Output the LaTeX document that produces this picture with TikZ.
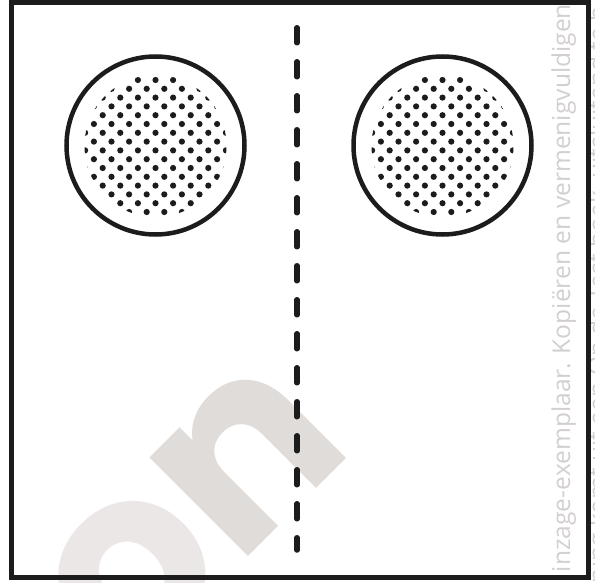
\documentclass[tikz,border=0pt]{standalone}
\usepackage{fontspec}
\usepackage{xcolor}
\usepackage{tikz}
\usetikzlibrary{positioning}
\newfontfamily\wmfont{Open Sans}
\newfontfamily\bigfont{Poppins}
\definecolor{wmgray}{RGB}{212,207,207}
\definecolor{wmlight}{RGB}{236,231,231}
\definecolor{wmdark}{RGB}{224,220,218}
\definecolor{inkblack}{RGB}{28,28,28}

\begin{document}
\begin{tikzpicture}[x=1pt,y=-1pt,
  frame/.style={inkblack,line width=5pt},
  ring/.style={inkblack,line width=4.5pt},
  fold/.style={inkblack,line width=5.5pt,dash pattern=on 15pt off 19pt,line cap=round},
  stamp/.style={inner sep=0pt,outer sep=0pt}]
  \useasboundingbox (0,0) rectangle (595,583);
  \clip (0,0) rectangle (595,583);
  % watermark
  \node[stamp,rotate=45,anchor=base west,font=\bigfont\bfseries\fontsize{250}{250}\selectfont]
    (wmon) at (125,680) {\textcolor{wmlight}{o}\textcolor{wmdark}{n}};
  \node[stamp,rotate=90,anchor=base west,text=wmgray,font=\wmfont\fontsize{24.6}{24.6}\selectfont]
    (wmline1) at (570,572) {inzage-exemplaar. Kopiëren en vermenigvuldigen};
  \node[stamp,rotate=90,anchor=base west,text=wmgray,font=\wmfont\fontsize{24.6}{24.6}\selectfont]
    (wmline2) at (606,583) {ning komt uit een Op de Test boek, uitsluitend te b};
  % sheet and fold line
  \draw[frame] (11.5,2.5) rectangle (588,577);
  \coordinate (foldtop) at (297,27.75);
  \coordinate (foldbot) at (297,550);
  \draw[fold] (foldtop) -- (foldbot);
  % dotted discs
  \foreach \cx in {155.5,442.5} {
    \begin{scope}
      \clip (\cx,146) circle (71pt);
      \foreach \r in {-9,...,9}
        \foreach \c in {-5,...,5}
          \fill[inkblack] ({\cx+\c*17.6+mod(\r+20,2)*8.8},{146+\r*8.8+4.4}) circle (3.1pt);
    \end{scope}
    \draw[ring] (\cx,145.5) circle (89pt);
  }
\end{tikzpicture}
\end{document}
